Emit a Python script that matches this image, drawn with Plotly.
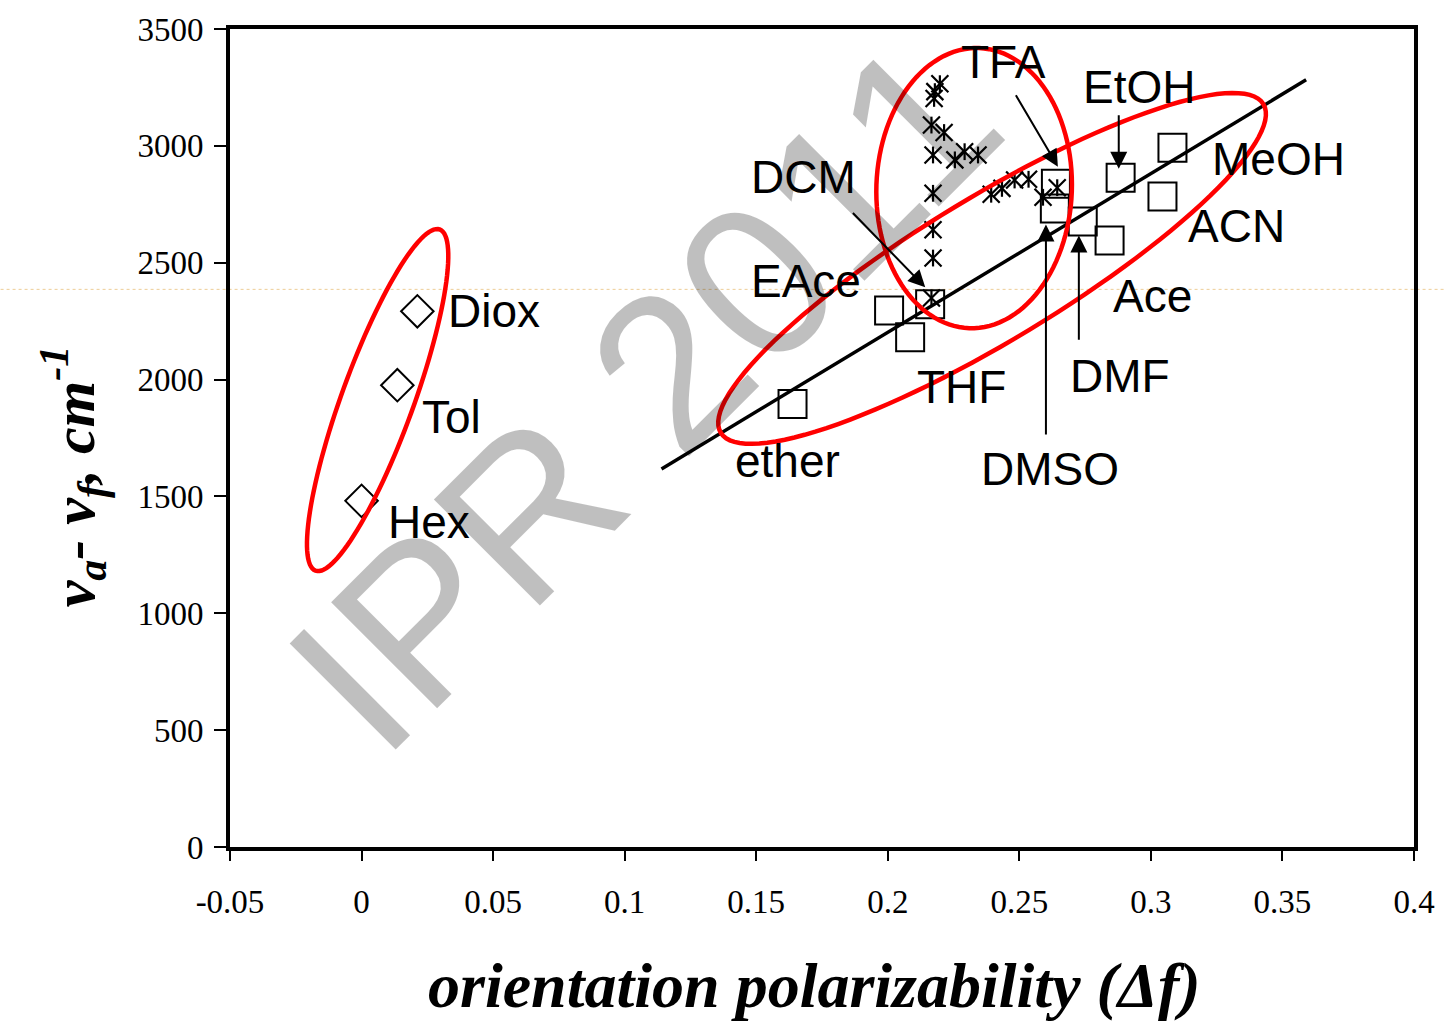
import numpy as np
import plotly.graph_objects as go

# ---------------- data ----------------
nonpolar_names = ["Hex", "Tol", "Diox"]
nonpolar_df = [0.000, 0.0136, 0.0212]
nonpolar_shift = [1481, 1976, 2292]

polar_names = ["ether", "EAce", "THF", "DCM", "TFA", "DMSO", "DMF", "Ace", "EtOH", "ACN", "MeOH"]
polar_df = [0.1638, 0.2005, 0.2085, 0.2161, 0.2639, 0.2635, 0.2741, 0.2843, 0.2885, 0.3044, 0.3082]
polar_shift = [1895, 2296, 2181, 2322, 2838, 2732, 2676, 2595, 2864, 2783, 2992]

star_df = [0.2198, 0.2179, 0.2176, 0.2166, 0.2214, 0.2172, 0.2255, 0.2292, 0.2343, 0.2172,
           0.2393, 0.2434, 0.2482, 0.2535, 0.2590, 0.2644, 0.2172, 0.2172, 0.2166]
star_shift = [3266, 3232, 3203, 3089, 3057, 2961, 2940, 2975, 2961, 2797,
              2793, 2818, 2854, 2857, 2780, 2821, 2641, 2520, 2349]

fit_slope = 6795
fit_intercept = 843
fit_x_range = [0.114, 0.359]

x_ticks = [-0.05, 0, 0.05, 0.1, 0.15, 0.2, 0.25, 0.3, 0.35, 0.4]
x_tick_labels = ["-0.05", "0", "0.05", "0.1", "0.15", "0.2", "0.25", "0.3", "0.35", "0.4"]
y_ticks = [0, 500, 1000, 1500, 2000, 2500, 3000, 3500]

# ---------------- layout geometry ----------------
W, H = 1447, 1024
ML, MR, MT, MB = 230, 30, 27, 177
XR = [-0.05, 0.4]
YR = [0, 3500]


def px2x(px):
    return XR[0] + (px - ML) / (W - ML - MR) * (XR[1] - XR[0])


def py2y(py):
    return YR[0] + (H - MB - py) / (H - MT - MB) * (YR[1] - YR[0])


def ellipse_path(cx, cy, a, b, ang_deg, n=120):
    t = np.linspace(0, 2 * np.pi, n, endpoint=False)
    th = np.radians(ang_deg)
    u = a * np.cos(t)
    v = b * np.sin(t)
    px = cx + u * np.cos(th) - v * np.sin(th)
    py = cy - (u * np.sin(th) + v * np.cos(th))
    pts = [f"{px2x(x):.6f},{py2y(y):.3f}" for x, y in zip(px, py)]
    return "M" + " L".join(pts) + " Z"


fig = go.Figure()

# fit line
fx = np.array(fit_x_range)
fig.add_trace(go.Scatter(x=fx, y=fit_slope * fx + fit_intercept, mode="lines",
                         line=dict(color="black", width=3.5), hoverinfo="skip", showlegend=False))

# non-polar solvents (diamonds)
fig.add_trace(go.Scatter(x=nonpolar_df, y=nonpolar_shift, mode="markers", text=nonpolar_names,
                         marker=dict(symbol="diamond-open", size=25, color="black",
                                     line=dict(color="black", width=2)),
                         showlegend=False))

# polar solvents (squares)
fig.add_trace(go.Scatter(x=polar_df, y=polar_shift, mode="markers", text=polar_names,
                         marker=dict(symbol="square-open", size=28, color="black",
                                     line=dict(color="black", width=2)),
                         showlegend=False))

# TFA mixtures (stars: x + vertical bar)
fig.add_trace(go.Scatter(x=star_df, y=star_shift, mode="markers",
                         marker=dict(symbol="x-thin-open", size=17, color="black",
                                     line=dict(color="black", width=2.2)),
                         showlegend=False))
fig.add_trace(go.Scatter(x=star_df, y=star_shift, mode="markers",
                         marker=dict(symbol="line-ns-open", size=12, color="black",
                                     line=dict(color="black", width=2.2)),
                         showlegend=False, hoverinfo="skip"))

shapes = []
# faint orange guide line across the page
shapes.append(dict(type="line", xref="paper", yref="y",
                   x0=-ML / (W - ML - MR), x1=(W - ML) / (W - ML - MR),
                   y0=py2y(288), y1=py2y(288),
                   line=dict(color="rgba(235,200,140,0.9)", width=1, dash="dot"), layer="below"))
# red ellipses
for (cx, cy, a, b, ang) in [(378, 399, 182, 36, 70), (994, 267, 318, 72, 31.2), (976, 186.5, 140.5, 98, 88)]:
    shapes.append(dict(type="path", xref="x", yref="y", path=ellipse_path(cx, cy, a, b, ang),
                       line=dict(color="#ff0000", width=4.5), fillcolor="rgba(0,0,0,0)", layer="above"))

annotations = []
label_font = dict(family="Liberation Sans, Arial, sans-serif", size=46, color="black")
labels = [("Diox", 495, 310), ("Tol", 452, 416), ("Hex", 429, 521), ("TFA", 1005, 60),
          ("EtOH", 1141, 85), ("MeOH", 1281, 157), ("DCM", 805, 175), ("ACN", 1239, 224),
          ("EAce", 807, 280), ("Ace", 1155, 295), ("THF", 963, 386), ("DMF", 1122, 375),
          ("ether", 789, 460), ("DMSO", 1052, 468)]
for txt, lx, ly in labels:
    annotations.append(dict(x=px2x(lx), y=py2y(ly), xref="x", yref="y", text=txt, showarrow=False,
                            font=label_font, xanchor="center", yanchor="middle"))

arrows = [((1017, 92), (1060, 165)), ((1121, 112), (1121, 167)), ((853, 210), (927, 286)),
          ((1048, 435), (1048, 223)), ((1081, 340), (1081, 234))]
for (tx, ty), (hx, hy) in arrows:
    annotations.append(dict(x=px2x(hx), y=py2y(hy), ax=px2x(tx), ay=py2y(ty), xref="x", yref="y",
                            axref="x", ayref="y", text="", showarrow=True, arrowhead=2,
                            arrowsize=1.7, arrowwidth=2, arrowcolor="black", standoff=0))

# watermark
annotations.append(dict(x=px2x(645), y=py2y(393), xref="x", yref="y", text="IPR 2011", showarrow=False,
                        textangle=-45, font=dict(family="Liberation Sans, Arial, sans-serif", size=218,
                                                 color="rgba(0,0,0,0.25)"),
                        xanchor="center", yanchor="middle"))

# axis titles
annotations.append(dict(x=(816 - ML) / (W - ML - MR), y=(H - MB - 986) / (H - MT - MB), xref="paper", yref="paper",
                        text="<b><i>orientation polarizability (Δf)</i></b>", showarrow=False,
                        font=dict(family="Liberation Serif, Times New Roman, serif", size=64, color="black"),
                        xanchor="center", yanchor="middle"))
annotations.append(dict(x=(73 - ML) / (W - ML - MR), y=(H - MB - 475) / (H - MT - MB), xref="paper", yref="paper",
                        text="<b><i>ν<sub>a</sub>- ν<sub>f</sub>, cm<sup>-1</sup></i></b>", showarrow=False,
                        textangle=-90,
                        font=dict(family="Liberation Serif, Times New Roman, serif", size=60, color="black"),
                        xanchor="center", yanchor="middle"))

tick_font = dict(family="Liberation Serif, Times New Roman, serif", size=33, color="black")
fig.update_layout(
    width=W, height=H, margin=dict(l=ML, r=MR, t=MT, b=MB),
    paper_bgcolor="white", plot_bgcolor="white",
    shapes=shapes, annotations=annotations, showlegend=False,
    xaxis=dict(range=XR, tickvals=x_ticks, ticktext=x_tick_labels, showgrid=False, zeroline=False,
               showline=True, linecolor="black", linewidth=4, mirror=True,
               ticks="outside", ticklen=10, tickwidth=1.5, tickcolor="black",
               tickfont=tick_font, ticklabelstandoff=12),
    yaxis=dict(range=YR, tickvals=y_ticks, showgrid=False, zeroline=False,
               showline=True, linecolor="black", linewidth=4, mirror=True,
               ticks="outside", ticklen=12, tickwidth=1.5, tickcolor="black",
               tickfont=tick_font, ticklabelstandoff=4),
)

fig.write_html("out.html")
